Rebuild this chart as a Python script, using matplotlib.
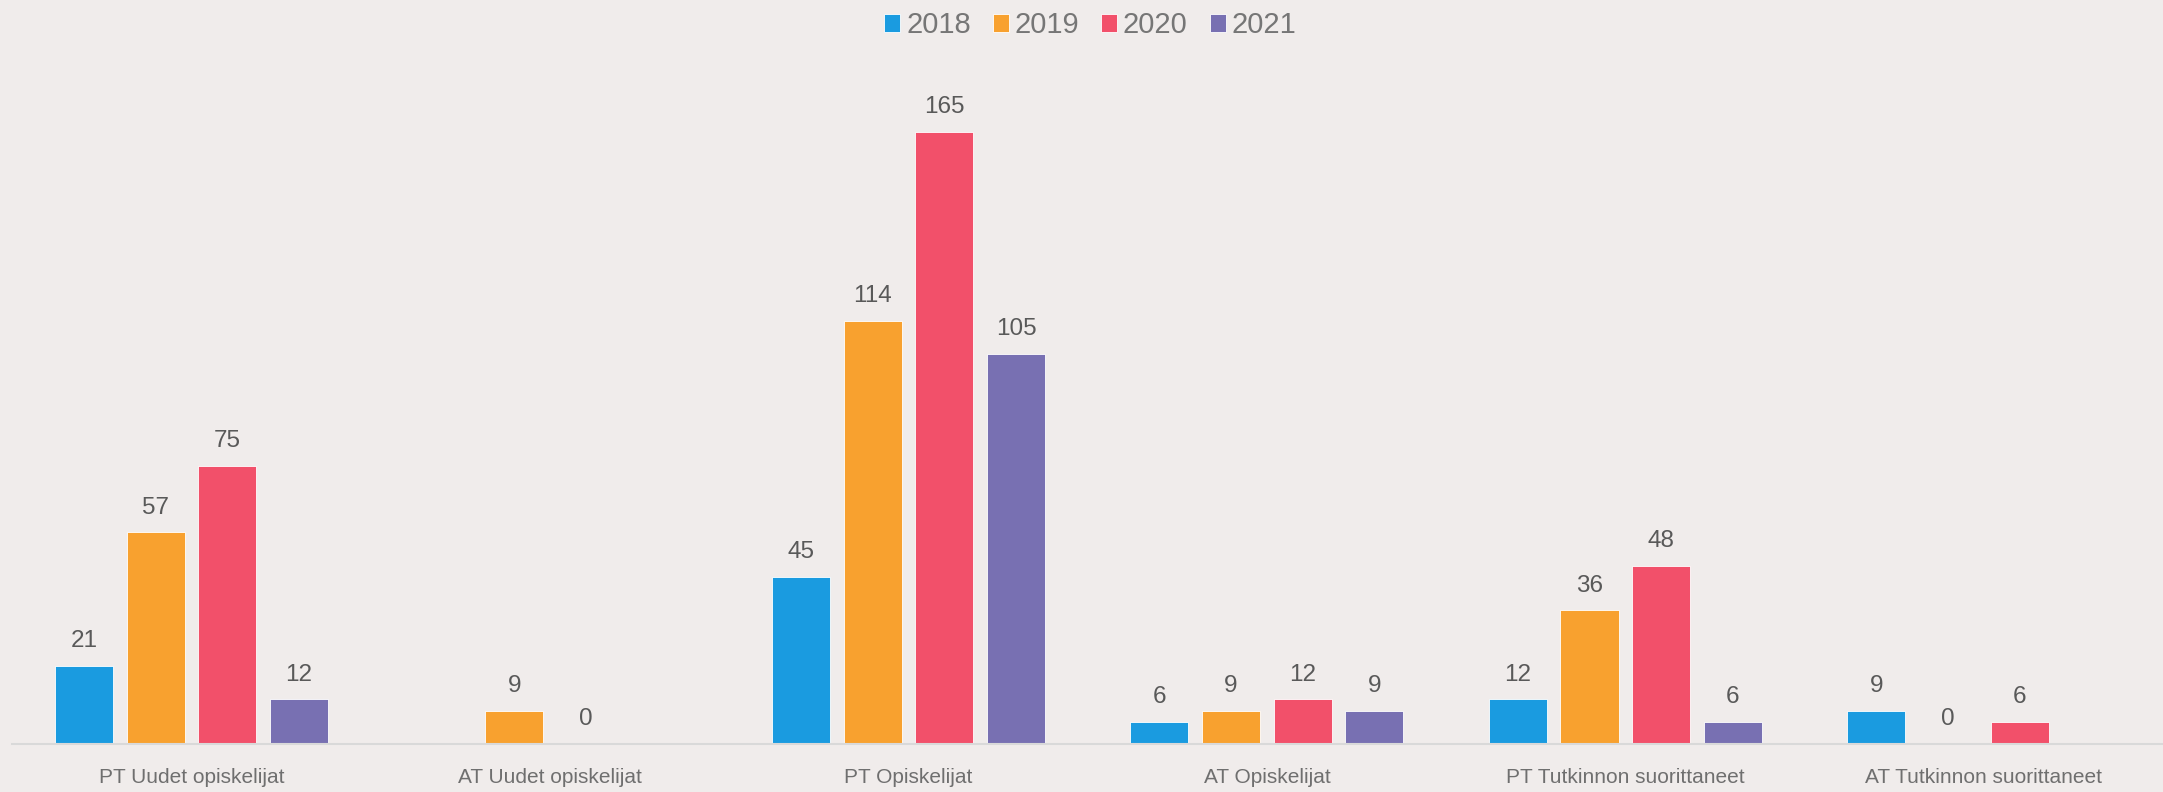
import matplotlib.pyplot as plt
import numpy as np

categories = ['PT Uudet opiskelijat', 'AT Uudet opiskelijat', 'PT Opiskelijat',
              'AT Opiskelijat', 'PT Tutkinnon suorittaneet', 'AT Tutkinnon suorittaneet']
years = ['2018', '2019', '2020', '2021']
v2018 = [21, np.nan, 45, 6, 12, 9]
v2019 = [57, 9, 114, 9, 36, 0]
v2020 = [75, 0, 165, 12, 48, 6]
v2021 = [12, np.nan, 105, 9, 6, np.nan]
colors = ['#1A9BE0', '#F8A12F', '#F2506A', '#7870B2']

bg = '#F0ECEB'
plt.rcParams['font.family'] = ['Liberation Sans', 'DejaVu Sans']

fig = plt.figure(figsize=(21.63, 7.92), dpi=100, facecolor=bg)
ax = fig.add_axes([0.0057, 0.0606, 0.9943, 0.8434], facecolor=bg)

x = np.arange(len(categories))
w = 0.162
step = 0.2
for i, (vals, c, yr) in enumerate(zip([v2018, v2019, v2020, v2021], colors, years)):
    pos = x + (i - 1.5) * step
    vals = np.array(vals, dtype=float)
    ax.bar(pos, np.nan_to_num(vals), width=w, color=c, label=yr,
           edgecolor='white', linewidth=0.6)
    for p, v in zip(pos, vals):
        if np.isnan(v):
            continue
        ax.annotate(f'{int(v)}', (p, v), xytext=(0, 10), textcoords='offset points',
                    ha='center', va='bottom', fontsize=17.5, color='#595959')

ax.set_xlim(-0.5, len(categories) - 0.5)
ax.set_ylim(0, 180)
ax.set_yticks([])
ax.set_xticks(x)
ax.set_xticklabels(categories, fontsize=15, color='#6F6F6F')
ax.tick_params(axis='x', length=0, pad=17)
for s in ['top', 'right', 'left']:
    ax.spines[s].set_visible(False)
ax.spines['bottom'].set_color('#D9D9D9')
ax.spines['bottom'].set_linewidth(1.5)

leg = fig.legend(loc='center', bbox_to_anchor=(0.504, 0.968), ncol=4, frameon=False,
                 fontsize=21, handlelength=0.55, handleheight=0.55, handletextpad=0.2,
                 columnspacing=0.75, labelcolor='#767676')

fig.savefig('out.png', dpi=100, facecolor=bg)
